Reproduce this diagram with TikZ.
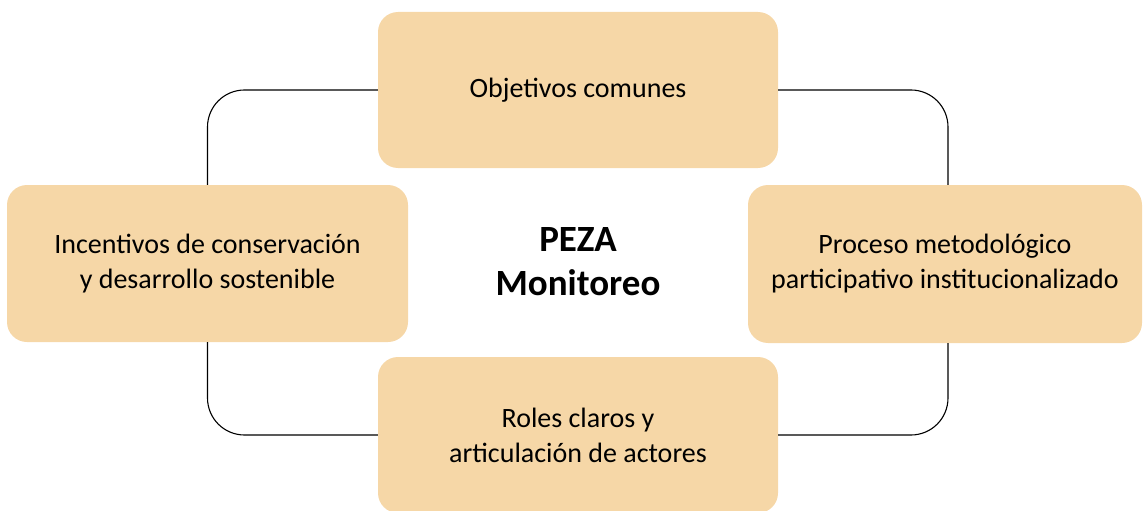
\documentclass[tikz,border=0pt]{standalone}
\usepackage{fontspec}
\setmainfont{Carlito}
\definecolor{boxfill}{HTML}{F6D7A7}
\begin{document}
\begin{tikzpicture}[x=1pt,y=-1pt,
  box/.style={fill=boxfill,draw=none,rounded corners=20pt,inner sep=0pt,
    align=center,font=\fontsize{28}{35}\selectfont},
  link/.style={draw=black,line width=1.1pt,rounded corners=37pt}]
\useasboundingbox (0,0) rectangle (1144,511);
\node[box,minimum width=400pt,minimum height=156pt] (top) at (578,90) {Objetivos comunes};
\node[box,minimum width=401pt,minimum height=157pt] (left) at (207.5,263.5) {Incentivos de conservación\\y desarrollo sostenible};
\node[box,minimum width=394pt,minimum height=158pt] (right) at (945,264) {Proceso metodológico\\participativo institucionalizado};
\node[box,minimum width=400pt,minimum height=156pt] (bottom) at (578,435) {Roles claros y\\articulación de actores};
\node[align=center,font=\bfseries\fontsize{37}{44}\selectfont] (center) at (578,262) {PEZA\\Monitoreo};
\coordinate (rn) at ([xshift=3pt]right.north);
\coordinate (rs) at ([xshift=3pt]right.south);
\draw[link] (top.west) -| (left.north);
\draw[link] (left.south) |- (bottom.west);
\draw[link] (bottom.east) -| (rs);
\draw[link] (rn) |- (top.east);
\end{tikzpicture}
\end{document}
